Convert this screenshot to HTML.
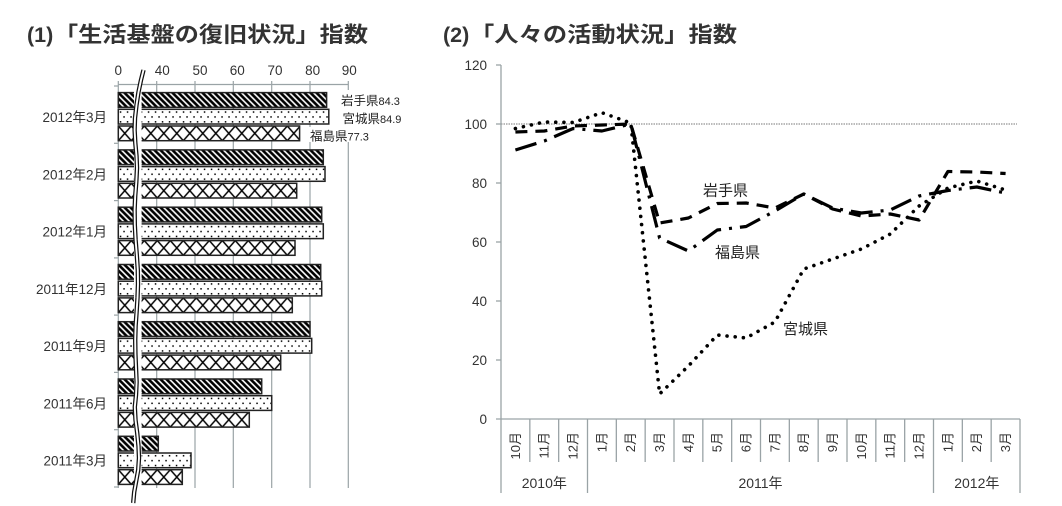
<!DOCTYPE html>
<html>
<head>
<meta charset="utf-8">
<style>
html,body{margin:0;padding:0;background:#fff;}
svg{display:block;}
text{font-family:"Liberation Sans","Noto Sans CJK JP",sans-serif;}
</style>
</head>
<body>
<svg width="1062" height="506" viewBox="0 0 1062 506" xmlns="http://www.w3.org/2000/svg">
<defs>
  <pattern id="pI" patternUnits="userSpaceOnUse" width="6" height="6">
    <rect width="6" height="6" fill="#fff"/>
    <path d="M0,0 L6,6 M-1,5 L1,7 M5,-1 L7,1" stroke="#000" stroke-width="2.6"/>
  </pattern>
  <pattern id="pM" patternUnits="userSpaceOnUse" width="7" height="9.8">
    <rect width="7" height="9.8" fill="#fff"/>
    <rect x="1.5" y="2" width="1.5" height="1.5" fill="#000"/>
    <rect x="5" y="6.9" width="1.5" height="1.5" fill="#000"/>
  </pattern>
  <pattern id="pF" patternUnits="userSpaceOnUse" width="13" height="14.7">
    <rect width="13" height="14.7" fill="#fff"/>
    <path d="M0,0 L13,14.7 M0,14.7 L13,0" stroke="#000" stroke-width="1.5"/>
  </pattern>
</defs>

<rect width="1062" height="506" fill="#fff"/>

<!-- Titles -->
<text x="27" y="42" font-size="21.5" font-weight="bold" fill="#333">(1)</text>
<text x="54" y="42" font-size="21.5" font-weight="bold" fill="#333" textLength="314" lengthAdjust="spacingAndGlyphs">「生活基盤の復旧状況」指数</text>
<text x="443" y="42" font-size="21.5" font-weight="bold" fill="#333">(2)</text>
<text x="470" y="42" font-size="21.5" font-weight="bold" fill="#333" textLength="267" lengthAdjust="spacingAndGlyphs">「人々の活動状況」指数</text>

<!-- ============ LEFT CHART ============ -->
<g stroke="#9aa3a6" stroke-width="1.2" fill="none">
  <line x1="156.7" y1="81" x2="156.7" y2="488"/>
  <line x1="195" y1="81" x2="195" y2="488"/>
  <line x1="233.3" y1="81" x2="233.3" y2="488"/>
  <line x1="271.7" y1="81" x2="271.7" y2="488"/>
  <line x1="310" y1="81" x2="310" y2="488"/>
  <line x1="348.3" y1="81" x2="348.3" y2="488"/>
  <line x1="118.3" y1="81" x2="118.3" y2="488"/>
  <line x1="118.3" y1="84.5" x2="348.3" y2="84.5"/>
  <line x1="114" y1="86" x2="118.3" y2="86"/>
  <line x1="114" y1="143.3" x2="118.3" y2="143.3"/>
  <line x1="114" y1="200.6" x2="118.3" y2="200.6"/>
  <line x1="114" y1="257.9" x2="118.3" y2="257.9"/>
  <line x1="114" y1="315.1" x2="118.3" y2="315.1"/>
  <line x1="114" y1="372.4" x2="118.3" y2="372.4"/>
  <line x1="114" y1="429.7" x2="118.3" y2="429.7"/>
  <line x1="114" y1="487" x2="118.3" y2="487"/>
</g>

<g font-size="13.5" fill="#333" text-anchor="middle">
  <text x="118.3" y="75">0</text>
  <text x="162.3" y="75">40</text>
  <text x="200" y="75">50</text>
  <text x="237.3" y="75">60</text>
  <text x="275" y="75">70</text>
  <text x="312.7" y="75">80</text>
  <text x="349.3" y="75">90</text>
</g>

<g font-size="13.5" fill="#333" text-anchor="end">
  <text x="107" y="122">2012年3月</text>
  <text x="107" y="179.3">2012年2月</text>
  <text x="107" y="236.6">2012年1月</text>
  <text x="107" y="293.9">2011年12月</text>
  <text x="107" y="351.1">2011年9月</text>
  <text x="107" y="408.4">2011年6月</text>
  <text x="107" y="465.7">2011年3月</text>
</g>

<g stroke="#222" stroke-width="1.5">
  <g transform="translate(118.3,92.6)"><rect width="208.3" height="14.7" fill="url(#pI)"/></g>
  <g transform="translate(118.3,109.3)"><rect width="210.5" height="14.7" fill="url(#pM)"/></g>
  <g transform="translate(118.3,126)"><rect width="181.3" height="14.7" fill="url(#pF)"/></g>

  <g transform="translate(118.3,149.9)"><rect width="205" height="14.7" fill="url(#pI)"/></g>
  <g transform="translate(118.3,166.6)"><rect width="206.7" height="14.7" fill="url(#pM)"/></g>
  <g transform="translate(118.3,183.3)"><rect width="178.4" height="14.7" fill="url(#pF)"/></g>

  <g transform="translate(118.3,207.2)"><rect width="203.4" height="14.7" fill="url(#pI)"/></g>
  <g transform="translate(118.3,223.9)"><rect width="205" height="14.7" fill="url(#pM)"/></g>
  <g transform="translate(118.3,240.6)"><rect width="176.7" height="14.7" fill="url(#pF)"/></g>

  <g transform="translate(118.3,264.5)"><rect width="202.4" height="14.7" fill="url(#pI)"/></g>
  <g transform="translate(118.3,281.2)"><rect width="203.4" height="14.7" fill="url(#pM)"/></g>
  <g transform="translate(118.3,297.9)"><rect width="174" height="14.7" fill="url(#pF)"/></g>

  <g transform="translate(118.3,321.7)"><rect width="191.7" height="14.7" fill="url(#pI)"/></g>
  <g transform="translate(118.3,338.4)"><rect width="193.4" height="14.7" fill="url(#pM)"/></g>
  <g transform="translate(118.3,355.1)"><rect width="162.4" height="14.7" fill="url(#pF)"/></g>

  <g transform="translate(118.3,379)"><rect width="143.4" height="14.7" fill="url(#pI)"/></g>
  <g transform="translate(118.3,395.7)"><rect width="153.4" height="14.7" fill="url(#pM)"/></g>
  <g transform="translate(118.3,412.4)"><rect width="131" height="14.7" fill="url(#pF)"/></g>

  <g transform="translate(118.3,436.3)"><rect width="40" height="14.7" fill="url(#pI)"/></g>
  <g transform="translate(118.3,453)"><rect width="72.7" height="14.7" fill="url(#pM)"/></g>
  <g transform="translate(118.3,469.7)"><rect width="64" height="14.7" fill="url(#pF)"/></g>
</g>

<rect x="134" y="87" width="7.6" height="400" fill="#fff"/>
<polyline fill="none" stroke="#111" stroke-width="4.4" stroke-linejoin="round" points="143.5,70 141,80 138.5,92 136.5,105 135,118 134.6,130 135.3,143 136.5,156 137,168 136.3,182 135.2,196 134.6,210 134.8,225 135.6,240 136.8,255 137.8,270 138,284 137.5,298 136.6,312 135.6,326 135.2,340 135.4,354 136,368 136.6,382 136,395 134.8,407 135.5,420 137.2,433 138.5,446 139,458 138.2,470 136.2,481 134.2,492 133.2,503"/>
<polyline fill="none" stroke="#fff" stroke-width="1.9" stroke-linejoin="round" points="143.5,70 141,80 138.5,92 136.5,105 135,118 134.6,130 135.3,143 136.5,156 137,168 136.3,182 135.2,196 134.6,210 134.8,225 135.6,240 136.8,255 137.8,270 138,284 137.5,298 136.6,312 135.6,326 135.2,340 135.4,354 136,368 136.6,382 136,395 134.8,407 135.5,420 137.2,433 138.5,446 139,458 138.2,470 136.2,481 134.2,492 133.2,503"/>

<rect x="338" y="90" width="24" height="52" fill="#fff"/>
<rect x="306" y="127" width="66" height="15" fill="#fff"/>
<g fill="#222">
  <text x="341" y="105"><tspan font-size="12.5">岩手県</tspan><tspan font-size="11">84.3</tspan></text>
  <text x="342.5" y="123"><tspan font-size="12.5">宮城県</tspan><tspan font-size="11">84.9</tspan></text>
  <text x="310" y="140.5"><tspan font-size="12.5">福島県</tspan><tspan font-size="11">77.3</tspan></text>
</g>

<!-- ============ RIGHT CHART ============ -->
<line x1="501" y1="124" x2="1017" y2="124" stroke="#777" stroke-width="0.9" stroke-dasharray="1.5 1"/>

<g stroke="#9aa3a6" stroke-width="1.3" fill="none">
  <line x1="501" y1="65" x2="501" y2="419"/>
  <line x1="496" y1="65" x2="501" y2="65"/>
  <line x1="496" y1="124" x2="501" y2="124"/>
  <line x1="496" y1="183" x2="501" y2="183"/>
  <line x1="496" y1="242" x2="501" y2="242"/>
  <line x1="496" y1="301" x2="501" y2="301"/>
  <line x1="496" y1="360" x2="501" y2="360"/>
  <line x1="496" y1="419" x2="1020" y2="419"/>
  <line x1="501" y1="419" x2="501" y2="493"/>
  <line x1="529.83" y1="419" x2="529.83" y2="462"/>
  <line x1="558.67" y1="419" x2="558.67" y2="462"/>
  <line x1="587.5" y1="419" x2="587.5" y2="493"/>
  <line x1="616.33" y1="419" x2="616.33" y2="462"/>
  <line x1="645.17" y1="419" x2="645.17" y2="462"/>
  <line x1="674" y1="419" x2="674" y2="462"/>
  <line x1="702.83" y1="419" x2="702.83" y2="462"/>
  <line x1="731.67" y1="419" x2="731.67" y2="462"/>
  <line x1="760.5" y1="419" x2="760.5" y2="462"/>
  <line x1="789.33" y1="419" x2="789.33" y2="462"/>
  <line x1="818.17" y1="419" x2="818.17" y2="462"/>
  <line x1="847" y1="419" x2="847" y2="462"/>
  <line x1="875.83" y1="419" x2="875.83" y2="462"/>
  <line x1="904.67" y1="419" x2="904.67" y2="462"/>
  <line x1="933.5" y1="419" x2="933.5" y2="493"/>
  <line x1="962.33" y1="419" x2="962.33" y2="462"/>
  <line x1="991.17" y1="419" x2="991.17" y2="462"/>
  <line x1="1020" y1="419" x2="1020" y2="493"/>
</g>

<g font-size="13.5" fill="#333" text-anchor="end">
  <text x="487" y="70">120</text>
  <text x="487" y="129">100</text>
  <text x="487" y="188">80</text>
  <text x="487" y="247">60</text>
  <text x="487" y="306">40</text>
  <text x="487" y="365">20</text>
  <text x="487" y="424">0</text>
</g>

<g font-size="13" fill="#333" text-anchor="end">
  <text transform="translate(519.9,432) rotate(-90)">10月</text>
  <text transform="translate(548.7,432) rotate(-90)">11月</text>
  <text transform="translate(577.6,432) rotate(-90)">12月</text>
  <text transform="translate(606.4,432) rotate(-90)">1月</text>
  <text transform="translate(635.2,432) rotate(-90)">2月</text>
  <text transform="translate(664.1,432) rotate(-90)">3月</text>
  <text transform="translate(692.9,432) rotate(-90)">4月</text>
  <text transform="translate(721.7,432) rotate(-90)">5月</text>
  <text transform="translate(750.6,432) rotate(-90)">6月</text>
  <text transform="translate(779.4,432) rotate(-90)">7月</text>
  <text transform="translate(808.2,432) rotate(-90)">8月</text>
  <text transform="translate(837.1,432) rotate(-90)">9月</text>
  <text transform="translate(865.9,432) rotate(-90)">10月</text>
  <text transform="translate(894.7,432) rotate(-90)">11月</text>
  <text transform="translate(923.6,432) rotate(-90)">12月</text>
  <text transform="translate(952.4,432) rotate(-90)">1月</text>
  <text transform="translate(981.2,432) rotate(-90)">2月</text>
  <text transform="translate(1010.1,432) rotate(-90)">3月</text>
</g>

<g font-size="14" fill="#333" text-anchor="middle">
  <text x="544.3" y="488">2010年</text>
  <text x="760.5" y="488">2011年</text>
  <text x="976.8" y="488">2012年</text>
</g>

<g fill="none" stroke="#000" stroke-linejoin="round">
  <polyline stroke-width="3.2" stroke-dasharray="12 8" points="515.4,132 544.3,131 573.1,126 601.9,125 630.8,124 659.6,223 688.4,218 717.3,203.5 746.1,203 774.9,208 803.8,194 832.6,209 861.4,216 890.3,214 919.1,220 947.9,171.5 976.8,172 1005.6,173.5"/>
  <polyline stroke-width="3.2" stroke-dasharray="22 8 3 8" points="515.4,150 544.3,141 573.1,128.5 601.9,131 630.8,124 659.6,238 688.4,251 717.3,230 746.1,226.5 774.9,211 803.8,194 832.6,208 861.4,213 890.3,210 919.1,196 947.9,190.5 976.8,187 1005.6,193"/>
  <polyline stroke-width="3.6" stroke-linecap="round" stroke-dasharray="0.01 8.2" points="515.4,128.5 544.3,122 573.1,122.5 601.9,112.7 630.8,123 659.6,394 688.4,366 717.3,335 746.1,338 774.9,322 803.8,269 832.6,259 861.4,249 890.3,234 919.1,206 947.9,188 976.8,181 1005.6,190"/>
</g>

<g font-size="15" fill="#222">
  <text x="703" y="195.5">岩手県</text>
  <text x="715" y="257.5">福島県</text>
  <text x="783" y="334">宮城県</text>
</g>
</svg>
</body>
</html>
